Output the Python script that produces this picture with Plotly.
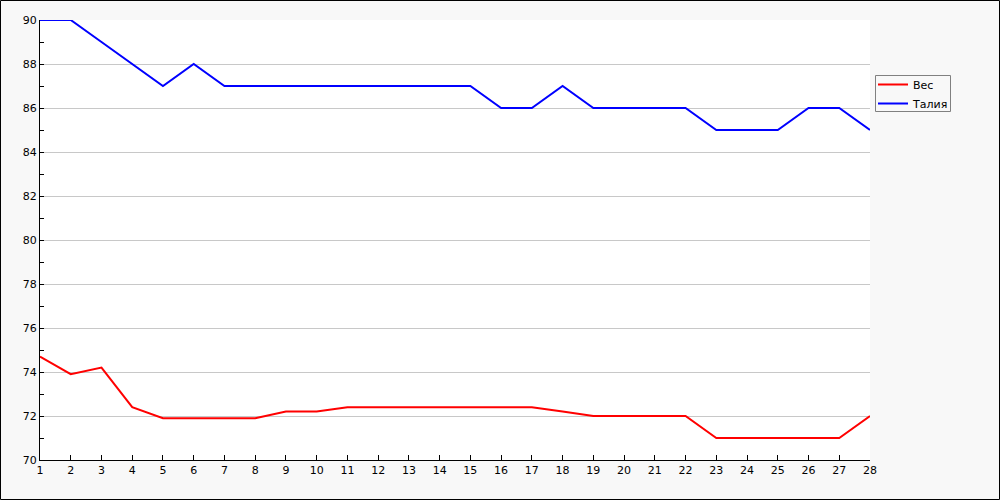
import plotly.graph_objects as go

days = list(range(1, 29))
weight = [74.7, 73.9, 74.2, 72.4, 71.9, 71.9, 71.9, 71.9, 72.2, 72.2,
          72.4, 72.4, 72.4, 72.4, 72.4, 72.4, 72.4, 72.2, 72.0, 72.0,
          72.0, 72.0, 71.0, 71.0, 71.0, 71.0, 71.0, 72.0]
waist = [90, 90, 89, 88, 87, 88, 87, 87, 87, 87,
         87, 87, 87, 87, 87, 86, 86, 87, 86, 86,
         86, 86, 85, 85, 85, 86, 86, 85]

fig = go.Figure()
fig.add_trace(go.Scatter(x=days, y=weight, mode="lines", name="Вес",
                         line=dict(color="#ff0000", width=2)))
fig.add_trace(go.Scatter(x=days, y=waist, mode="lines", name="Талия",
                         line=dict(color="#0000ff", width=2)))

L, R, T, B = 40, 130, 20, 40
W, H = 1000, 500
pw, ph = W - L - R, H - T - B


def px_x(p):
    return (p - L) / pw


def px_y(p):
    return (H - B - p) / ph


fig.update_layout(
    width=W, height=H,
    margin=dict(l=L, r=R, t=T, b=B, pad=0),
    paper_bgcolor="#f8f8f8",
    plot_bgcolor="#ffffff",
    font=dict(family="DejaVu Sans", size=11, color="#000000"),
    showlegend=True,
    legend=dict(x=px_x(873), y=px_y(70), xanchor="left", yanchor="top",
                bgcolor="rgba(0,0,0,0)", borderwidth=0,
                font=dict(size=11), tracegroupgap=0),
    xaxis=dict(range=[1, 28], tickmode="linear", tick0=1, dtick=1,
               ticks="inside", ticklen=5, tickcolor="#000000",
               showline=True, linecolor="#000000", linewidth=1,
               showgrid=False, zeroline=False),
    yaxis=dict(range=[70, 90], tickmode="linear", tick0=70, dtick=2,
               ticks="inside", ticklen=4, tickcolor="#000000",
               showline=True, linecolor="#000000", linewidth=1,
               showgrid=True, gridcolor="#c8c8c8", gridwidth=1,
               zeroline=False,
               minor=dict(dtick=1, ticks="inside", ticklen=4, tickcolor="#000000", showgrid=False)),
    shapes=[
        dict(type="rect", xref="paper", yref="paper",
             x0=px_x(875.5), x1=px_x(950.5), y0=px_y(111.5), y1=px_y(75.5),
             line=dict(color="#808080", width=1), fillcolor="#f8f8f8",
             layer="below"),
        dict(type="rect", xref="paper", yref="paper",
             x0=px_x(0.5), x1=px_x(W - 0.5), y0=px_y(H - 0.5), y1=px_y(0.5),
             line=dict(color="#000000", width=1), fillcolor="rgba(0,0,0,0)",
             layer="above"),
    ],
)

fig.write_html("out.html", config={"displayModeBar": False},
               post_script="document.body.style.margin='0';document.body.style.overflow='hidden';")
